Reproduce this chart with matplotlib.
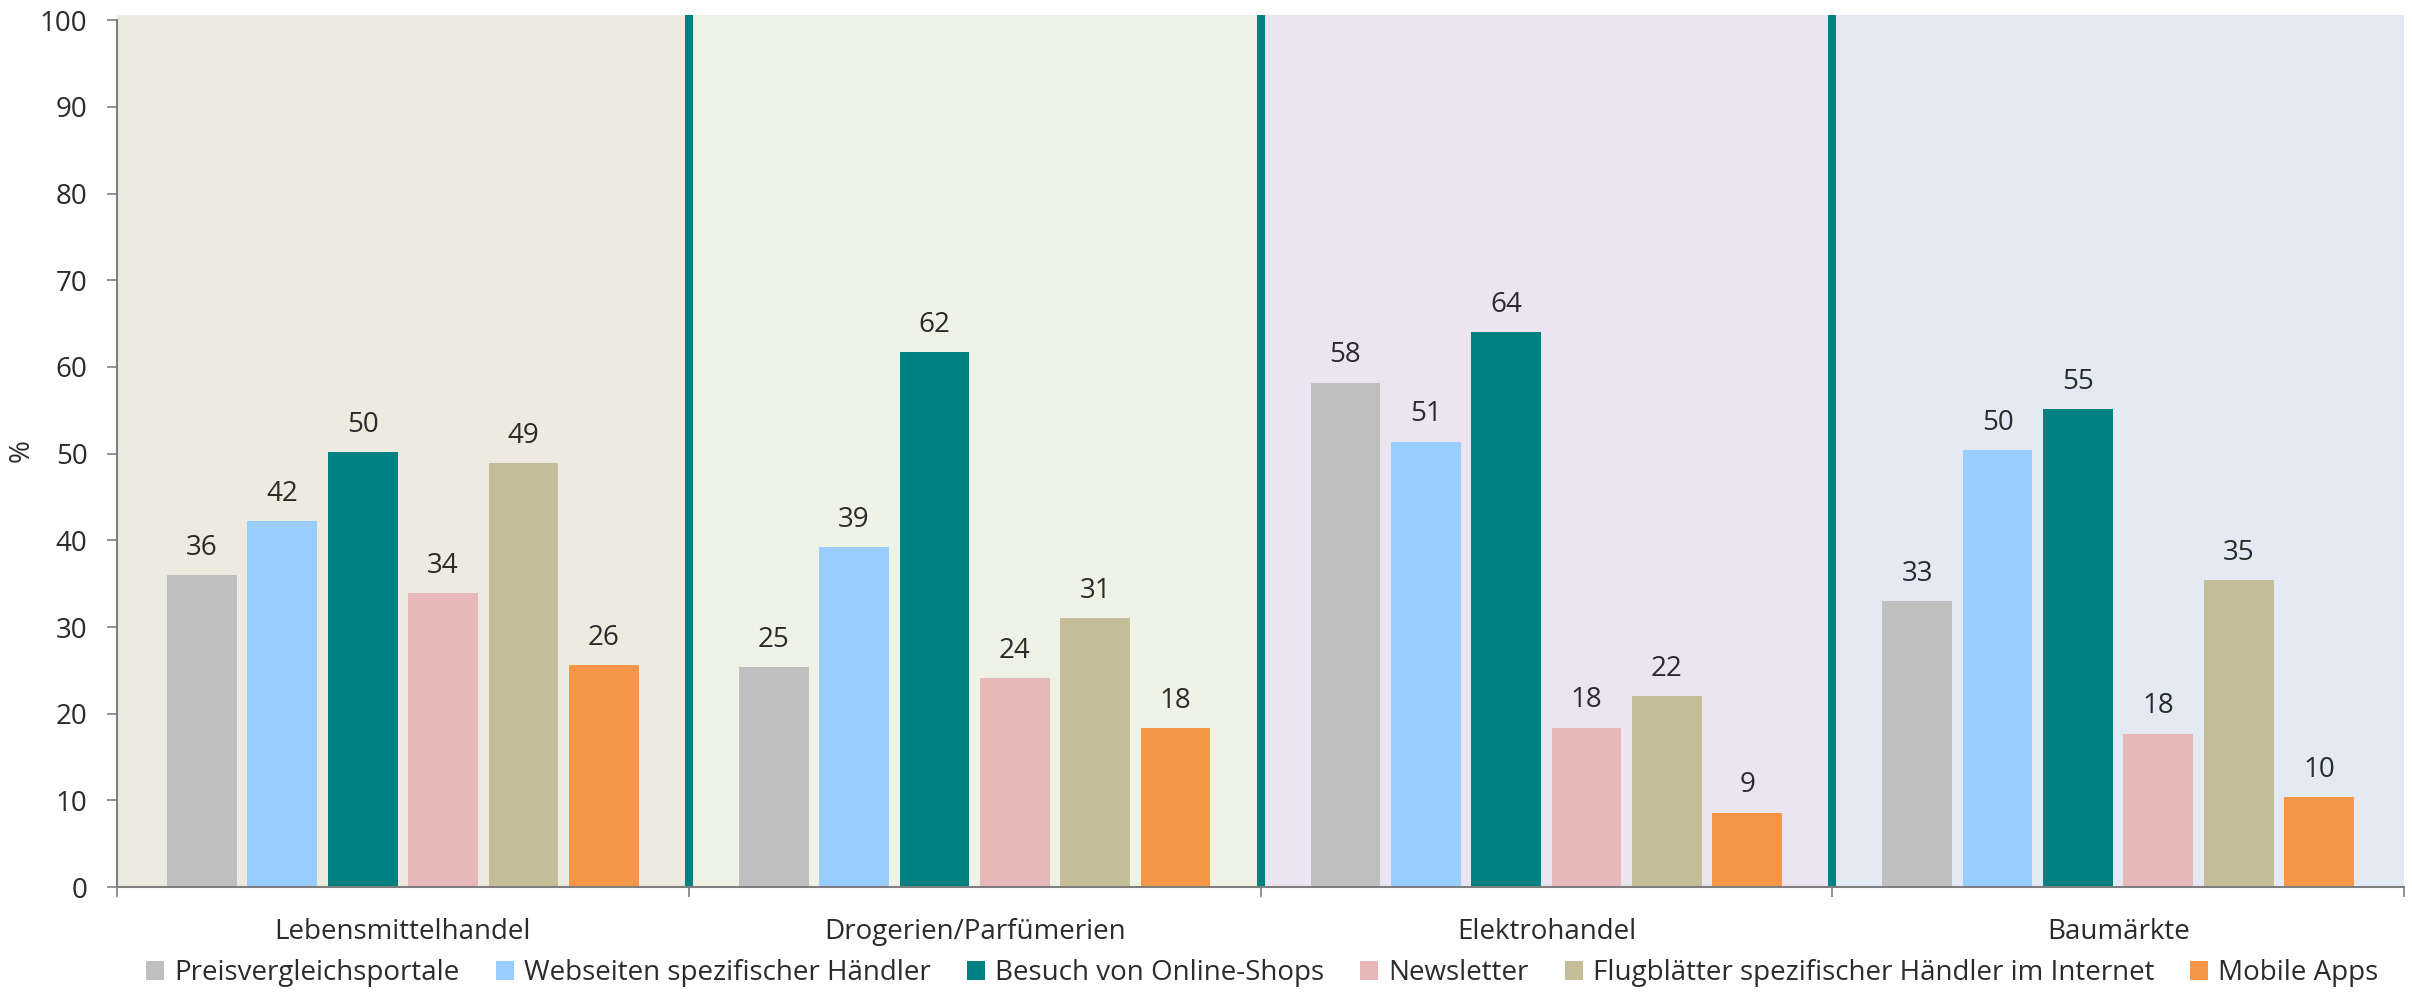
import numpy as np
import matplotlib.pyplot as plt
from matplotlib.patches import Patch

plt.rcParams['font.family'] = ['Open Sans', 'DejaVu Sans']

# Daten
kategorien = ['Lebensmittelhandel', 'Drogerien/Parfümerien', 'Elektrohandel', 'Baumärkte']
serien = ['Preisvergleichsportale', 'Webseiten spezifischer Händler', 'Besuch von Online-Shops',
          'Newsletter', 'Flugblätter spezifischer Händler im Internet', 'Mobile Apps']
preisvergleich = [36.0, 25.4, 58.2, 33.0]
webseiten = [42.2, 39.2, 51.4, 50.4]
online_shops = [50.2, 61.7, 64.0, 55.1]
newsletter = [33.9, 24.1, 18.4, 17.7]
flugblaetter = [48.9, 31.0, 22.0, 35.4]
mobile_apps = [25.6, 18.3, 8.6, 10.4]
yticks = list(range(0, 101, 10))

werte = [preisvergleich, webseiten, online_shops, newsletter, flugblaetter, mobile_apps]
farben = ['#BFBFBF', '#99CCFF', '#008080', '#E6B8B7', '#C4BD97', '#F79646']
hintergrund = ['#EDEAE0', '#EFF3E6', '#EBE5F2', '#E3EAF4']
textfarbe = '#2b2b2b'
fs = 20

fig = plt.figure(figsize=(24.12, 9.92), dpi=100)
ax = fig.add_axes([0.0485, 0.1058, 0.9482, 0.879])

x = np.arange(len(kategorien)) + 0.5
step = 0.1406
width = 0.122

for i, c in enumerate(hintergrund):
    ax.axvspan(i, i + 1, color=c, zorder=0, lw=0)
for i in range(1, len(kategorien)):
    ax.axvline(i, color='#008080', lw=5.8, zorder=1)

for j, (vals, col) in enumerate(zip(werte, farben)):
    xs = x + (j - 2.5) * step
    ax.bar(xs, vals, width=width, color=col, zorder=2)
    for xi, v in zip(xs, vals):
        ax.annotate(f'{v:.0f}', (xi, v), xytext=(0, 9.5), textcoords='offset points',
                    ha='center', va='bottom', fontsize=fs, color=textfarbe)

ax.set_xlim(0, 4)
ax.set_ylim(0, 100.6)
ax.set_yticks(yticks)
ax.set_xticks([0, 1, 2, 3, 4])
ax.set_xticklabels([])
ax.set_xticks(x, minor=True)
ax.set_xticklabels(kategorien, minor=True)
ax.tick_params(axis='x', which='minor', length=0, pad=22, labelsize=fs, labelcolor=textfarbe)
ax.tick_params(axis='x', which='major', length=7.2, color='#7f7f7f', width=1.2)
ax.tick_params(axis='y', length=7.2, color='#7f7f7f', width=1.2, labelsize=fs,
               labelcolor=textfarbe, pad=14)
ax.spines['top'].set_visible(False)
ax.spines['right'].set_visible(False)
ax.spines['left'].set_bounds(0, 100)
for s in ['left', 'bottom']:
    ax.spines[s].set_color('#7f7f7f')
    ax.spines[s].set_linewidth(1.5)
ax.set_ylabel('%', fontsize=fs, color=textfarbe, labelpad=3)

handles = [Patch(facecolor=c, edgecolor='none') for c in farben]
fig.legend(handles, serien, loc='center', bbox_to_anchor=(0.5234, 0.019), ncol=6,
           frameon=False, fontsize=fs, handlelength=0.65, handleheight=0.65,
           handletextpad=0.36, columnspacing=1.3, labelcolor=textfarbe)

fig.savefig('out.png', dpi=100)
